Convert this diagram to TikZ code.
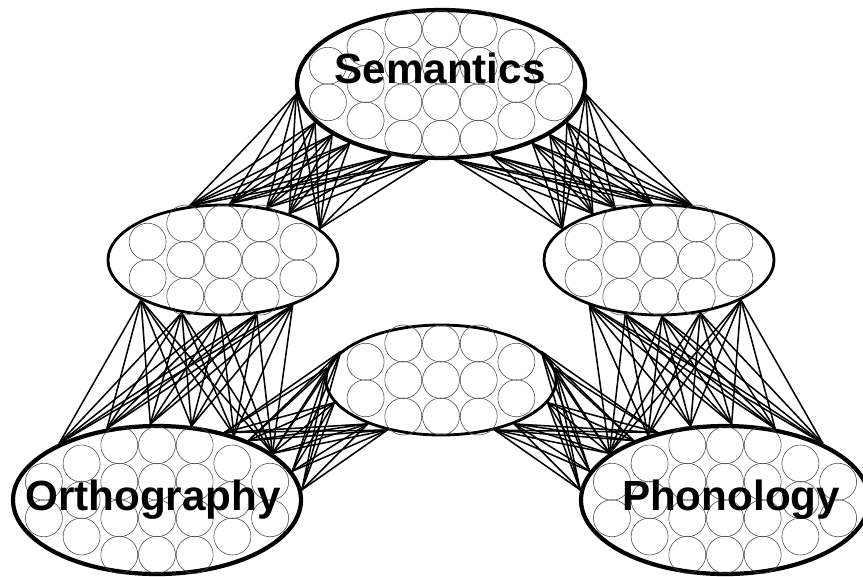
\documentclass[tikz,border=0pt]{standalone}
\usepackage{fontspec}
\setmainfont{Liberation Sans}
\usetikzlibrary{shapes.geometric,calc}

\tikzset{
  layer/.style={draw, ellipse, line width=3.6pt, inner sep=0pt,
    minimum width=8.64cm, minimum height=4.44cm},
  hidden/.style={layer, line width=2.4pt, minimum width=6.9cm, minimum height=3.3cm},
  unit/.style={draw=black!70, line width=0.5pt},
  link/.style={line width=1.3pt},
  layername/.style={font=\fontsize{36}{40}\selectfont\bfseries, anchor=base, inner sep=0pt}
}

% units of one layer: column offset / number of units in that column
\newcommand{\drawunits}[2]{%
  \foreach \c/\n in {#2}{
    \foreach \r in {1,...,\n}{
      \draw[unit] ($(#1)+(\c*37.7,{(\r-(\n+1)/2)*36.5})$) circle[radius=0.555cm];
    }
  }
}

\begin{document}
\begin{tikzpicture}[x=0.03cm, y=-0.03cm]
  \useasboundingbox (0,0) rectangle (863,576);

  % layers
  \node[layer]  (sem)  at (441,84)  {};
  \node[hidden] (hidl) at (223,260) {};
  \node[hidden] (hidr) at (659,260) {};
  \node[hidden] (hidm) at (441,380) {};
  \node[layer]  (orth) at (157,500) {};
  \node[layer]  (phon) at (725,500) {};

  % semantics <-> hidden layers
  \foreach \a in {184,197,205,213,235,260}
    \foreach \b in {122,83,50,35,18}
      \draw[link] (sem.\a) -- (hidl.\b);
  \foreach \a in {356,343,335,327,305,280}
    \foreach \b in {58,97,130,145,162}
      \draw[link] (sem.\a) -- (hidr.\b);

  % hidden layers <-> orthography and phonology
  \foreach \a in {206,232,267,302,327}
    \foreach \b in {150,125,95,65,40,22}
      \draw[link] (hidl.\a) -- (orth.\b);
  \foreach \a in {334,308,273,238,213}
    \foreach \b in {30,55,85,115,140,158}
      \draw[link] (hidr.\a) -- (phon.\b);

  % orthography -> phonology route
  \foreach \a in {164,174,192,211,223}
    \foreach \b in {45,33,22,12,4}
      \draw[link] (hidm.\a) -- (orth.\b);
  \foreach \a in {16,6,348,329,317}
    \foreach \b in {135,147,158,168,176}
      \draw[link] (hidm.\a) -- (phon.\b);

  % units
  \drawunits{sem}{-3/2,-2/3,-1/4,0/4,1/4,2/3,3/2}
  \drawunits{orth}{-3/2,-2/3,-1/4,0/4,1/4,2/3,3/2}
  \drawunits{phon}{-3/2,-2/3,-1/4,0/4,1/4,2/3,3/2}
  \drawunits{hidl}{-2/2,-1/3,0/3,1/3,2/2}
  \drawunits{hidr}{-2/2,-1/3,0/3,1/3,2/2}
  \drawunits{hidm}{-2/2,-1/3,0/3,1/3,2/2}

  % layer names
  \node[layername] (semname)  at (440,83)  {Semantics};
  \node[layername] (orthname) at (153,510) {Orthography};
  \node[layername] (phonname) at (731,510) {Phonology};
\end{tikzpicture}
\end{document}
